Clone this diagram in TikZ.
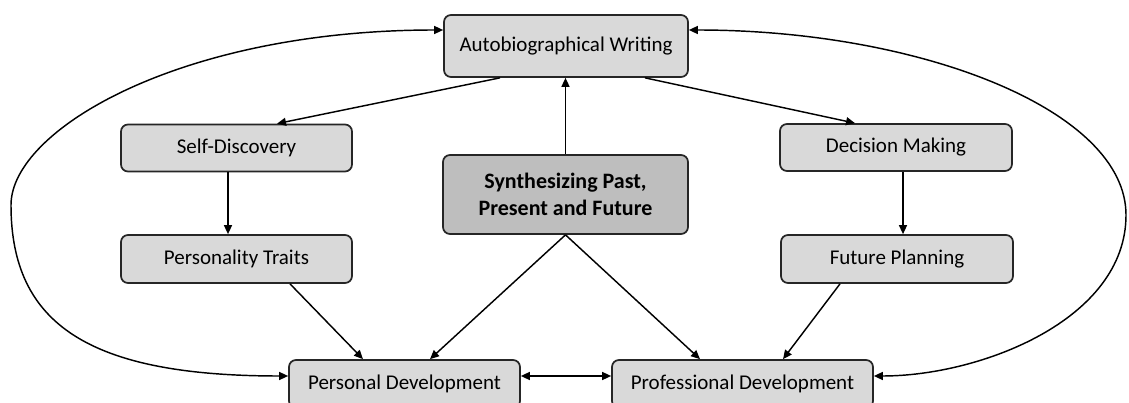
\documentclass[tikz,border=0pt]{standalone}
\usepackage{fontspec}
\setmainfont{Carlito}
\usetikzlibrary{arrows.meta}
\definecolor{boxfill}{HTML}{D9D9D9}
\definecolor{darkfill}{HTML}{BEBEBE}
\definecolor{edge}{HTML}{262626}
\tikzset{
  box/.style={draw=edge, line width=1.7pt, fill=boxfill, rounded corners=7pt,
    inner sep=0pt, text=black, font=\fontsize{21}{24}\selectfont},
  mainbox/.style={box, fill=darkfill, align=center,
    font=\fontsize{22}{27.5}\selectfont\bfseries},
  conn/.style={draw=black, line width=1.45pt, -{Triangle[length=9pt,width=8pt]}},
  biconn/.style={draw=black, line width=1.45pt, {Triangle[length=9pt,width=8pt]}-{Triangle[length=9pt,width=8pt]}}
}
\begin{document}
\begin{tikzpicture}[x=1pt,y=-1pt]
\path[use as bounding box, clip] (0,0) rectangle (1129,403);
\fill[white] (0,0) rectangle (1129,403);

\node[box, minimum width=244pt, minimum height=62pt] (aw) at (566,46) {Autobiographical Writing};
\node[mainbox, minimum width=245pt, minimum height=79pt] (syn) at (565.5,194.5) {Synthesizing Past,\\Present and Future};
\node[box, minimum width=231pt, minimum height=47pt] (sd) at (236.5,148) {Self-Discovery};
\node[box, minimum width=231pt, minimum height=48pt] (pt) at (236.5,259) {Personality Traits};
\node[box, minimum width=232pt, minimum height=47pt] (dm) at (896,147.5) {Decision Making};
\node[box, minimum width=232pt, minimum height=48pt] (fp) at (897,259) {Future Planning};
\node[box, minimum width=231pt, minimum height=48pt] (pd) at (404.5,384) {Personal Development};
\node[box, minimum width=261pt, minimum height=48pt] (prd) at (742.5,384) {Professional Development};

\draw[conn] ([xshift=-66pt]aw.south) -- ([xshift=40.5pt]sd.north);
\draw[conn] ([xshift=79pt]aw.south) -- ([xshift=-41pt]dm.north);
\draw[conn] (syn.north) -- (syn.north |- aw.south);
\draw[conn] ([xshift=-8.5pt]sd.south) -- ([xshift=-8.5pt]pt.north);
\draw[conn] ([xshift=7pt]dm.south) -- ([xshift=6pt]fp.north);
\draw[conn] ([xshift=53.5pt]pt.south) -- ([xshift=-41.5pt]pd.north);
\draw[conn] (syn.south) -- ([xshift=25.5pt]pd.north);
\draw[conn] (syn.south) -- ([xshift=-42.5pt]prd.north);
\draw[conn] ([xshift=-57pt]fp.south) -- ([xshift=40.5pt]prd.north);
\draw[biconn] ([yshift=8pt]pd.east) -- ([yshift=8pt]prd.west);

\coordinate (lm) at (11,205);
\coordinate (rm) at (1126,215);
\draw[biconn] ([yshift=8pt]pd.west) .. controls (90,376) and (11,325) .. (lm)
  .. controls (11,130) and (180,30) .. ([yshift=16pt]aw.west);
\draw[biconn] ([yshift=16pt]aw.east) .. controls (920,30) and (1126,110) .. (rm)
  .. controls (1126,320) and (980,376) .. ([yshift=8pt]prd.east);
\end{tikzpicture}
\end{document}
